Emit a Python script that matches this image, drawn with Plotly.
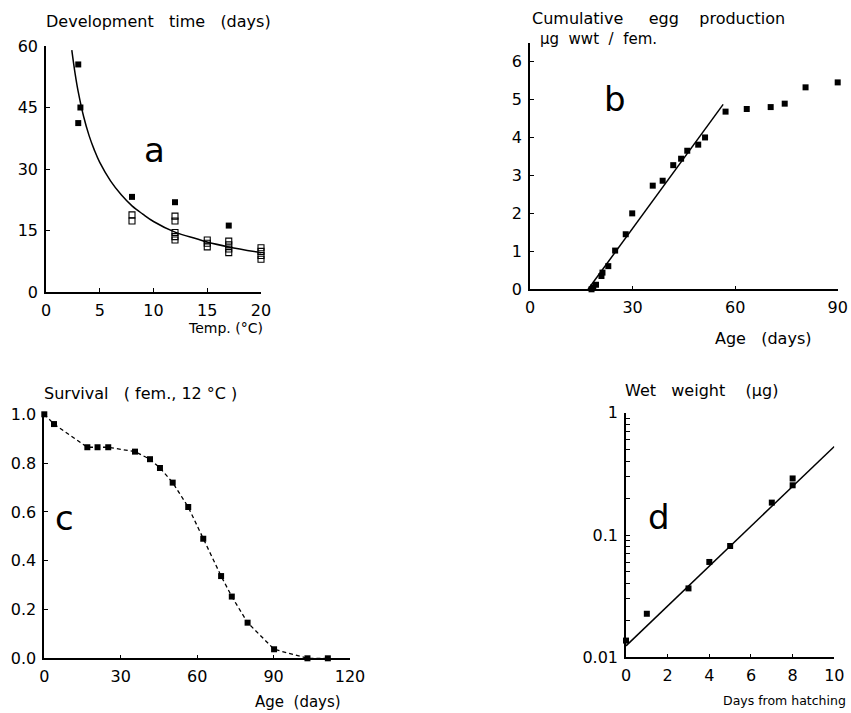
import plotly.graph_objects as go

W, H = 851, 713

# ---------------- data ----------------
# Panel a: development time vs temperature
a_fill_T = [3.0, 3.2, 3.0, 8, 12, 17]
a_fill_D = [55.5, 45.0, 41.2, 23.2, 21.9, 16.2]
a_open_T = [8, 8, 12, 12, 12, 12, 12, 15, 15, 15, 17, 17, 17, 17, 20, 20, 20, 20]
a_open_D = [18.8, 17.3, 18.5, 17.3, 14.5, 13.5, 12.7, 12.7, 11.9, 11.0,
            12.4, 11.5, 10.5, 9.6, 10.8, 9.9, 8.9, 8.0]
a_curve_T = [2.4, 2.7, 3.0, 3.5, 4.0, 4.5, 5.0, 6, 7, 8, 9, 10, 12, 14, 15, 17, 20]
a_curve_D = [59, 53.4, 48.8, 42.8, 38.2, 34.6, 31.6, 27.1, 23.7, 21.0, 19.0, 17.2,
             14.6, 13.0, 12.2, 11.0, 9.6]

# Panel b: cumulative egg production
b_age = [18.0, 18.5, 19.3, 20.9, 21.2, 22.9, 24.9, 28.0, 29.9, 35.9, 38.8, 41.9,
         44.2, 46.0, 49.2, 51.2, 57.2, 63.4, 70.4, 74.5, 80.6, 90.0]
b_egg = [0.0, 0.05, 0.12, 0.35, 0.44, 0.61, 1.02, 1.45, 2.0, 2.73, 2.86, 3.27,
         3.44, 3.65, 3.81, 4.0, 4.68, 4.75, 4.8, 4.89, 5.32, 5.45]
b_line_age = [17.0, 56.5]
b_line_egg = [0.0, 4.87]

# Panel c: survival
c_age = [0, 3.8, 16.9, 20.9, 25.1, 35.6, 41.5, 45.4, 50.4, 56.5, 62.4, 69.4,
         73.6, 79.8, 90.2, 103.3, 111.3]
c_surv = [1.0, 0.96, 0.865, 0.865, 0.865, 0.847, 0.816, 0.78, 0.72, 0.62, 0.49,
          0.337, 0.253, 0.146, 0.037, 0.0, 0.0]

# Panel d: wet weight
d_days = [0, 1, 3, 4, 5, 7, 8, 8]
d_ww = [0.0137, 0.0227, 0.0366, 0.0602, 0.0813, 0.184, 0.29, 0.255]
d_line_days = [0, 10]
d_line_ww = [0.0124, 0.53]

# tick definitions
a_xticks = [0, 5, 10, 15, 20]
a_yticks = [0, 15, 30, 45, 60]
b_xticks = [0, 30, 60, 90]
b_yticks = [0, 1, 2, 3, 4, 5, 6]
c_xticks = [0, 30, 60, 90, 120]
c_yticks = [0, 0.2, 0.4, 0.6, 0.8, 1.0]
c_ylabels = ["0.0", "0.2", "0.4", "0.6", "0.8", "1.0"]
d_xticks = [0, 2, 4, 6, 8, 10]
d_yticks = [0.01, 0.1, 1]
d_ylabels = ["0.01", "0.1", "1"]
d_yminor = [0.02, 0.03, 0.04, 0.05, 0.06, 0.07, 0.08, 0.09,
            0.2, 0.3, 0.4, 0.5, 0.6, 0.7, 0.8, 0.9]

# ---------------- layout helpers ----------------
def px_x(p):
    return p / W

def px_y(p):
    return 1 - p / H

def xd(p0, p1):
    return [px_x(p0), px_x(p1)]

def yd(top, bottom):
    return [px_y(bottom), px_y(top)]

FONT = "DejaVu Sans"
tickfont = dict(family=FONT, size=16, color="black")

def main_axis(**kw):
    d = dict(showgrid=False, zeroline=False, showline=True, linecolor="black",
             linewidth=1.6, ticks="inside", ticklen=4, tickwidth=1.3,
             tickcolor="black", tickfont=tickfont, automargin=False, ticklabelstandoff=3)
    d.update(kw)
    return d

def over_axis(**kw):
    d = dict(showgrid=False, zeroline=False, showline=False, ticks="outside", ticklen=4,
             tickwidth=1.3, tickcolor="black", showticklabels=False, automargin=False)
    d.update(kw)
    return d

fig = go.Figure()

# panel a
fig.add_trace(go.Scatter(x=a_curve_T, y=a_curve_D, mode="lines",
                         line=dict(color="black", width=1.5, shape="spline", smoothing=1.0),
                         xaxis="x", yaxis="y"))
fig.add_trace(go.Scatter(x=a_open_T, y=a_open_D, mode="markers",
                         marker=dict(symbol="square-open", size=6, color="black", line=dict(width=1.1)),
                         xaxis="x", yaxis="y", cliponaxis=False))
fig.add_trace(go.Scatter(x=a_fill_T, y=a_fill_D, mode="markers",
                         marker=dict(symbol="square", size=6, color="black"),
                         xaxis="x", yaxis="y", cliponaxis=False))
# panel b
fig.add_trace(go.Scatter(x=b_line_age, y=b_line_egg, mode="lines", line=dict(color="black", width=1.5),
                         xaxis="x2", yaxis="y2"))
fig.add_trace(go.Scatter(x=b_age, y=b_egg, mode="markers",
                         marker=dict(symbol="square", size=6, color="black"),
                         xaxis="x2", yaxis="y2", cliponaxis=False))
# panel c
fig.add_trace(go.Scatter(x=c_age, y=c_surv, mode="lines+markers",
                         line=dict(color="black", width=1.3, dash="4px,3px"),
                         marker=dict(symbol="square", size=6, color="black"),
                         xaxis="x3", yaxis="y3", cliponaxis=False))
# panel d
fig.add_trace(go.Scatter(x=d_line_days, y=d_line_ww, mode="lines", line=dict(color="black", width=1.5),
                         xaxis="x4", yaxis="y4"))
fig.add_trace(go.Scatter(x=d_days, y=d_ww, mode="markers",
                         marker=dict(symbol="square", size=6, color="black"),
                         xaxis="x4", yaxis="y4", cliponaxis=False))

dom = {
    1: (xd(46, 261), yd(46, 292), [0, 20], [0, 60]),
    2: (xd(530, 837.7), yd(43.3, 289.3), [0, 90], [0, 6.48]),
    3: (xd(44.3, 350), yd(414.3, 658.3), [0, 120], [0, 1.0]),
    4: (xd(626, 834.3), yd(412.7, 657.3), [0, 10], [-2, 0]),
}

lay = dict(width=W, height=H, margin=dict(l=0, r=0, t=0, b=0),
           paper_bgcolor="white", plot_bgcolor="white", showlegend=False)

def nm(prefix, i):
    return prefix + ("" if i == 1 else str(i))

xt = {1: (a_xticks, None), 2: (b_xticks, None), 3: (c_xticks, None), 4: (d_xticks, None)}
yt = {1: (a_yticks, None), 2: (b_yticks + [6.48], [str(v) for v in b_yticks] + [""]),
      3: (c_yticks, c_ylabels), 4: (d_yticks, d_ylabels)}

for i in range(1, 5):
    xdom, ydom, xr, yr = dom[i]
    xv, xtxt = xt[i]
    yv, ytxt = yt[i]
    xa = main_axis(domain=xdom, range=xr, tickvals=xv, anchor=nm("y", i))
    ya = main_axis(domain=ydom, range=yr, tickvals=yv, anchor=nm("x", i))
    if ytxt is not None:
        ya["ticktext"] = ytxt
    if i == 4:
        ya["type"] = "log"
        ya["minor"] = dict(ticks="inside", ticklen=4, tickcolor="black", tickwidth=1.1, tickvals=d_yminor)
    lay[nm("xaxis", i)] = xa
    lay[nm("yaxis", i)] = ya
    # overlay axes provide the outer half of the crossing ticks
    ox = over_axis(domain=xdom, range=xr, tickvals=xv, overlaying=nm("x", i), anchor=nm("y", i), side="bottom")
    oy = over_axis(domain=ydom, range=yr, tickvals=yv, overlaying=nm("y", i), anchor=nm("x", i), side="left")
    if i == 4:
        oy["type"] = "log"
        oy["minor"] = dict(ticks="outside", ticklen=4, tickcolor="black", tickwidth=1.1, tickvals=d_yminor)
    lay["xaxis" + str(i + 4)] = ox
    lay["yaxis" + str(i + 4)] = oy

fig.update_layout(**lay)

NB = "\u00a0"

def sp(s):
    return s.replace(" ", NB)

def txt(x, y, s, size=16, xanchor="left"):
    fig.add_annotation(x=px_x(x), y=px_y(y), xref="paper", yref="paper", text=sp(s), showarrow=False,
                       xanchor=xanchor, yanchor="middle", font=dict(family=FONT, size=size, color="black"))

txt(44, 22, "Development   time   (days)")
txt(265, 328, "Temp. (°C)", size=14, xanchor="right")
txt(530, 19, "Cumulative     egg    production")
txt(538, 39, "µg  wwt  /  fem.", size=15)
txt(813, 338, "Age   (days)", xanchor="right")
txt(42, 393, "Survival   ( fem., 12 °C )")
txt(343, 702, "Age  (days)", size=15, xanchor="right")
txt(623, 390, "Wet   weight    (µg)")
txt(848, 700, "Days from hatching", size=12.5, xanchor="right")

# panel letters (in data coordinates)
for ax, x, y, s in [("", 10.1, 34.6, "a"), ("2", 24.9, 5.0, "b"), ("3", 8.1, 0.574, "c"), ("4", 1.58, -0.85, "d")]:
    fig.add_annotation(x=x, y=y, xref="x" + ax, yref="y" + ax, text=s, showarrow=False,
                       font=dict(family=FONT, size=34, color="black"))

# the page's default 8px body margin would shift the 851x713 figure; remove it
fig.write_html("out.html", config={"displayModeBar": False},
               post_script="document.body.style.margin='0';document.documentElement.style.overflow='hidden';")
